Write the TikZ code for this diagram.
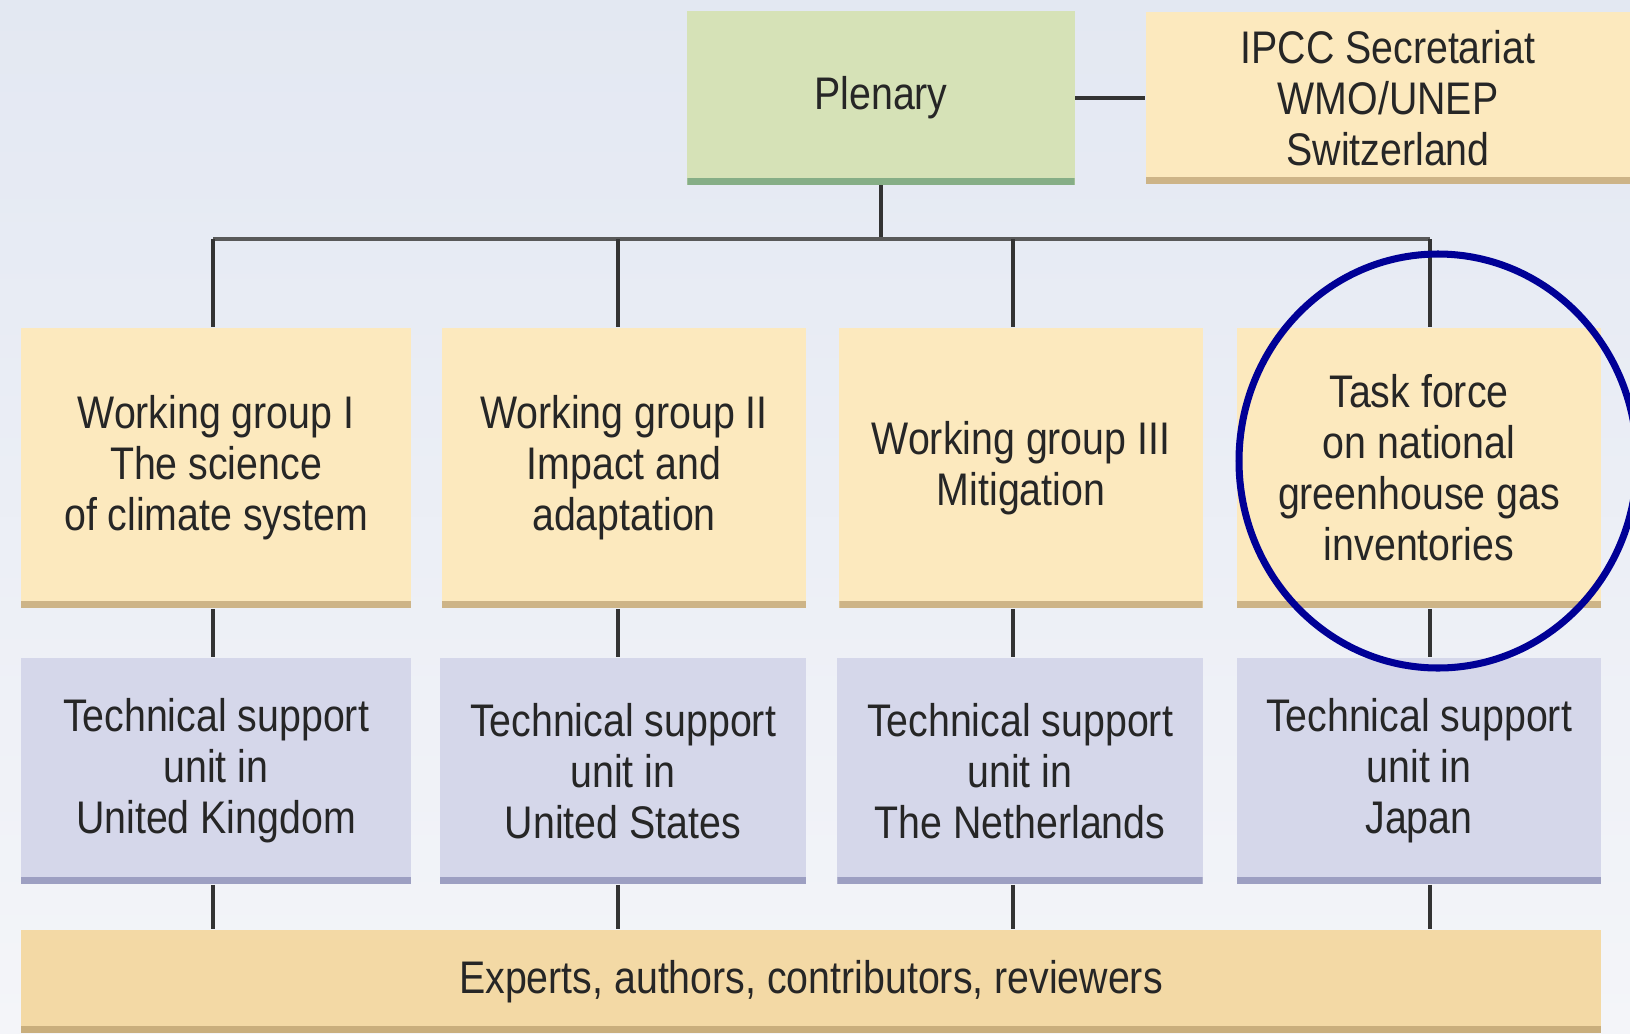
\documentclass[tikz,border=0pt]{standalone}
\usepackage{fontspec}
\setmainfont{Liberation Sans}[FakeStretch=0.86]
\usetikzlibrary{positioning}
\definecolor{bgtop}{HTML}{E3E8F2}
\definecolor{bgbot}{HTML}{F4F5F9}
\definecolor{sand}{HTML}{FCE9BE}
\definecolor{sanddark}{HTML}{CDB487}
\definecolor{sage}{HTML}{D6E2B7}
\definecolor{sagedark}{HTML}{86AE86}
\definecolor{lilac}{HTML}{D5D7EA}
\definecolor{lilacdark}{HTML}{9D9FC2}
\definecolor{bar}{HTML}{F3D9A5}
\definecolor{bardark}{HTML}{C9AE7C}
\definecolor{ring}{RGB}{0,0,150}
\tikzset{
  unit/.style={rectangle, align=center, inner sep=0pt, fill=#1,
    font=\fontsize{13}{14.5}\selectfont, text=black!85,
    path picture={\fill[#1dark] (path picture bounding box.south west)
      rectangle ([yshift=0.07cm]path picture bounding box.south east);}},
  link/.style={draw=black!80, line width=0.9pt},
}
\begin{document}
\begin{tikzpicture}[x=0.01cm, y=-0.01cm]
  \shade[top color=bgtop, bottom color=bgbot] (0,0) rectangle (1630,1033);
  \useasboundingbox (0,0) rectangle (1630,1033);
  \clip (0,0) rectangle (1630,1033);
  % top row
  \node[unit=sage, minimum width=3.87cm, minimum height=1.73cm] (plenary) at (881,98) {Plenary};
  \node[unit=sand, minimum width=4.84cm, minimum height=1.72cm] (secr) at (1388,98)
    {IPCC Secretariat\\WMO/UNEP\\Switzerland};
  \draw[link] (plenary.east) -- (secr.west);
  % working groups
  \node[unit=sand, minimum width=3.90cm, minimum height=2.80cm] (wg1) at (216,468)
    {Working group I\\The science\\of climate system};
  \node[unit=sand, minimum width=3.64cm, minimum height=2.80cm] (wg2) at (624,468)
    {Working group II\\Impact and\\adaptation};
  \node[unit=sand, minimum width=3.63cm, minimum height=2.80cm] (wg3) at (1021,468)
    {Working group III\\Mitigation};
  \node[unit=sand, minimum width=3.64cm, minimum height=2.80cm] (wg4) at (1419,468)
    {Task force\\on national\\greenhouse gas\\inventories};
  % support units
  \node[unit=lilac, minimum width=3.90cm, minimum height=2.26cm] (tsu1) at (216,771)
    {Technical support\\unit in\\United Kingdom};
  \node[unit=lilac, minimum width=3.66cm, minimum height=2.26cm] (tsu2) at (623,771)
    {Technical support\\unit in\\United States};
  \node[unit=lilac, minimum width=3.65cm, minimum height=2.26cm] (tsu3) at (1020,771)
    {Technical support\\unit in\\The Netherlands};
  \node[unit=lilac, minimum width=3.64cm, minimum height=2.26cm] (tsu4) at (1419,771)
    {Technical support\\unit in\\Japan};
  \node[unit=bar, minimum width=15.80cm, minimum height=1.03cm] (experts) at (811,981.5)
    {Experts, authors, contributors, reviewers};
  % tree
  \coordinate (b1) at (213,239);
  \coordinate (b2) at (618,239);
  \coordinate (b3) at (1013,239);
  \coordinate (b4) at (1430,239);
  \draw[link] (plenary.south) -- (plenary.south |- b1);
  \draw[draw=black!65, line width=1.3pt] (b1) -- (b4);
  \foreach \i in {1,2,3,4}{
    \draw[link] (b\i) -- (b\i |- wg\i.north);
    \draw[link] (b\i |- wg\i.south) -- (b\i |- tsu\i.north);
    \draw[link] (b\i |- tsu\i.south) -- (b\i |- experts.north);
  }
  \draw[ring, line width=2pt] (1438,461) ellipse [x radius=199, y radius=207];
\end{tikzpicture}
\end{document}
